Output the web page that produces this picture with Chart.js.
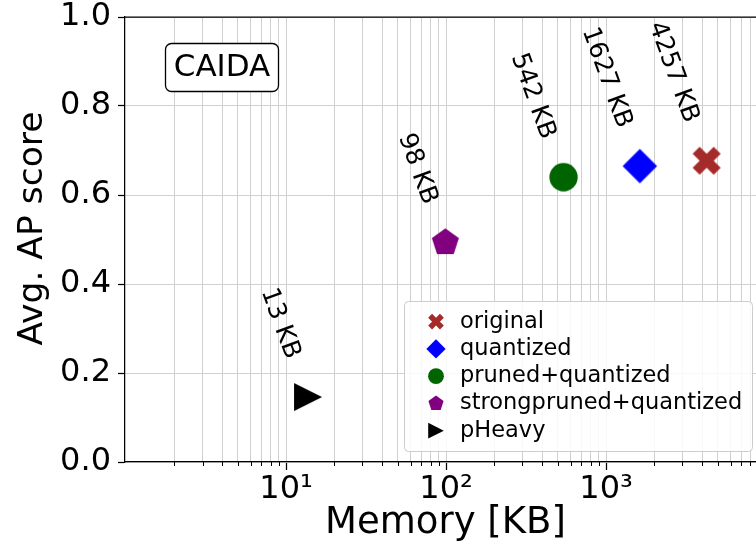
<!DOCTYPE html>
<html>
<head>
<meta charset="utf-8">
<script src="https://cdn.jsdelivr.net/npm/chart.js@4.4.1/dist/chart.umd.min.js"></script>
<style>
html, body { margin: 0; padding: 0; overflow: hidden; background: #fff; }
canvas { display: block; }
</style>
</head>
<body>
<canvas id="chart" width="766" height="550"></canvas>
<script>
// Values
const methods = ['original', 'quantized', 'pruned+quantized', 'strongpruned+quantized', 'pHeavy'];
const memoryKB = [4257, 1627, 542, 98.9, 13.7];
const apScore = [0.677, 0.665, 0.640, 0.493, 0.146];
const sizeLabels = ['4257 KB', '1627 KB', '542 KB', '98 KB', '13 KB'];
const xMajorTicks = [10, 100, 1000];
const yTicks = [0, 0.2, 0.4, 0.6, 0.8, 1.0];
const datasetName = 'CAIDA';

// Marker look per method
const markerShapes = ['X', 'diamond', 'circle', 'pentagon', 'triangleRight'];
const markerColors = ['#a52a2a', '#0000ff', '#006400', '#800080', '#000000'];
const markerSizes = [28, 34.5, 28.3, 28.4, 28];
const legendScale = 0.56;

const FONT = "'DejaVu Sans', sans-serif";
const SUP = { 0: '\u2070', 1: '\u00b9', 2: '\u00b2', 3: '\u00b3', 4: '\u2074' };

// Trace a marker path centred on (0,0), s = bounding size in px
function tracePath(ctx, shape, s) {
    ctx.beginPath();
    if (shape === 'circle') {
        ctx.arc(0, 0, s / 2, 0, Math.PI * 2);
    } else if (shape === 'diamond') {
        let r = s / 2;
        ctx.moveTo(0, -r); ctx.lineTo(r, 0); ctx.lineTo(0, r); ctx.lineTo(-r, 0);
    } else if (shape === 'pentagon') {
        let r = s / 2;
        for (let i = 0; i < 5; i++) {
            let a = -Math.PI / 2 + i * 2 * Math.PI / 5;
            if (i === 0) ctx.moveTo(r * Math.cos(a), r * Math.sin(a));
            else ctx.lineTo(r * Math.cos(a), r * Math.sin(a));
        }
    } else if (shape === 'triangleRight') {
        let h = s / 2;
        ctx.moveTo(h, 0); ctx.lineTo(-h, -h); ctx.lineTo(-h, h);
    } else if (shape === 'X') {
        // filled plus, rotated 45 degrees
        let pts = [[-1, -3], [1, -3], [1, -1], [3, -1], [3, 1], [1, 1], [1, 3], [-1, 3], [-1, 1], [-3, 1], [-3, -1], [-1, -1]];
        let unit = s / 0.9428 / 6;
        let c = Math.SQRT1_2;
        pts.forEach(([px, py], i) => {
            let x = (px * c - py * c) * unit;
            let y = (px * c + py * c) * unit;
            if (i === 0) ctx.moveTo(x, y); else ctx.lineTo(x, y);
        });
    }
    ctx.closePath();
}

function makeMarker(shape, color, s) {
    let c = document.createElement('canvas');
    let n = Math.ceil(s) + 4;
    c.width = n;
    c.height = n;
    let ctx = c.getContext('2d');
    ctx.translate(n / 2, n / 2);
    tracePath(ctx, shape, s);
    ctx.fillStyle = color;
    ctx.fill();
    return c;
}

function roundRect(ctx, x, y, w, h, r) {
    ctx.beginPath();
    ctx.moveTo(x + r, y);
    ctx.arcTo(x + w, y, x + w, y + h, r);
    ctx.arcTo(x + w, y + h, x, y + h, r);
    ctx.arcTo(x, y + h, x, y, r);
    ctx.arcTo(x, y, x + w, y, r);
    ctx.closePath();
}

// Rotated size label, its ink box bottom-right corner placed relative to the point
const LABEL_ANGLE = 70 * Math.PI / 180;
function drawRotatedLabel(ctx, text, px, py) {
    ctx.font = '25px ' + FONT;
    let m = ctx.measureText(text);
    let corners = [
        [-m.actualBoundingBoxLeft, -m.actualBoundingBoxAscent],
        [m.actualBoundingBoxRight, -m.actualBoundingBoxAscent],
        [m.actualBoundingBoxRight, m.actualBoundingBoxDescent],
        [-m.actualBoundingBoxLeft, m.actualBoundingBoxDescent]
    ];
    let cs = Math.cos(LABEL_ANGLE), sn = Math.sin(LABEL_ANGLE);
    let maxX = -Infinity, maxY = -Infinity;
    for (let [x, y] of corners) {
        maxX = Math.max(maxX, x * cs - y * sn);
        maxY = Math.max(maxY, x * sn + y * cs);
    }
    ctx.save();
    ctx.translate(px - 5 - maxX, py - 38 - maxY);
    ctx.rotate(LABEL_ANGLE);
    ctx.textAlign = 'left';
    ctx.textBaseline = 'alphabetic';
    ctx.fillStyle = '#000';
    ctx.fillText(text, 0, 0);
    ctx.restore();
}

const decorPlugin = {
    id: 'decor',
    afterDraw(chart) {
        let ctx = chart.ctx;
        let area = chart.chartArea;
        let xs = chart.scales.x, ys = chart.scales.y;
        ctx.save();
        // top spine
        ctx.strokeStyle = '#000';
        ctx.lineWidth = 1.25;
        ctx.beginPath();
        ctx.moveTo(area.left, area.top);
        ctx.lineTo(area.right, area.top);
        ctx.stroke();
        // minor ticks of the log axis
        ctx.lineWidth = 1;
        for (let t of xs.ticks) {
            if (xMajorTicks.includes(t.value)) continue;
            let x = Math.round(xs.getPixelForValue(t.value)) + 0.5;
            ctx.beginPath();
            ctx.moveTo(x, area.bottom);
            ctx.lineTo(x, area.bottom + 4);
            ctx.stroke();
        }

        // size labels next to the points
        methods.forEach((m, i) => {
            drawRotatedLabel(ctx, sizeLabels[i], xs.getPixelForValue(memoryKB[i]), ys.getPixelForValue(apScore[i]));
        });

        // dataset name box
        roundRect(ctx, 165.5, 43.5, 113, 48, 6);
        ctx.fillStyle = '#fff';
        ctx.fill();
        ctx.strokeStyle = '#000';
        ctx.lineWidth = 1.3;
        ctx.stroke();
        ctx.fillStyle = '#000';
        ctx.font = '31px ' + FONT;
        ctx.textAlign = 'center';
        ctx.textBaseline = 'middle';
        ctx.fillText(datasetName, 222, 68);

        // legend
        roundRect(ctx, 404.5, 301.5, 348, 150, 4);
        ctx.fillStyle = 'rgba(255,255,255,0.85)';
        ctx.fill();
        ctx.strokeStyle = '#cccccc';
        ctx.lineWidth = 1;
        ctx.stroke();
        ctx.font = '22.5px ' + FONT;
        ctx.textAlign = 'left';
        ctx.textBaseline = 'middle';
        methods.forEach((m, i) => {
            let y = 321.7 + i * 27.25;
            ctx.save();
            ctx.translate(436, y);
            tracePath(ctx, markerShapes[i], markerSizes[i] * legendScale);
            ctx.fillStyle = markerColors[i];
            ctx.fill();
            ctx.restore();
            ctx.fillStyle = '#000';
            ctx.fillText(m, 460, y);
        });
        ctx.restore();
    }
};

const datasets = methods.map((m, i) => ({
    label: m,
    data: [{ x: memoryKB[i], y: apScore[i] }],
    pointStyle: makeMarker(markerShapes[i], markerColors[i], markerSizes[i]),
    pointRadius: markerSizes[i] / 2,
    backgroundColor: markerColors[i],
    borderColor: markerColors[i]
}));

new Chart(document.getElementById('chart'), {
    type: 'scatter',
    data: { datasets: datasets },
    options: {
        responsive: false,
        animation: false,
        devicePixelRatio: 1,
        layout: { autoPadding: false, padding: { top: 17, right: 0, bottom: 0, left: 0 } },
        plugins: {
            legend: { display: false },
            tooltip: { enabled: false }
        },
        scales: {
            x: {
                type: 'logarithmic',
                min: 0.983,
                max: 10000,
                afterBuildTicks: (scale) => {
                    let t = [];
                    for (let p = 1; p <= 1000; p *= 10) {
                        for (let k = (p === 1 ? 2 : 1); k <= 9; k++) t.push({ value: k * p, major: k === 1 });
                    }
                    scale.ticks = t;
                },
                afterFit: (scale) => {
                    scale.height = 88;
                    scale.paddingLeft = 0;
                    scale.paddingRight = 0;
                },
                ticks: {
                    autoSkip: false,
                    maxRotation: 0,
                    padding: 4,
                    color: '#000',
                    font: { family: FONT, size: 32, lineHeight: 1 },
                    callback: (v) => xMajorTicks.includes(v) ? '10' + SUP[Math.round(Math.log10(v))] : ''
                },
                grid: {
                    color: '#d0d0d0',
                    lineWidth: 1,
                    tickLength: 8,
                    tickWidth: 1.25,
                    tickColor: (c) => (c.tick && xMajorTicks.includes(c.tick.value)) ? '#000' : 'rgba(0,0,0,0)'
                },
                border: { color: '#000', width: 1.25 },
                title: {
                    display: true,
                    text: 'Memory [KB]',
                    color: '#000',
                    font: { family: FONT, size: 37 },
                    padding: { top: 0, bottom: 4 }
                }
            },
            y: {
                min: 0,
                max: 1,
                afterBuildTicks: (scale) => { scale.ticks = yTicks.map(v => ({ value: v })); },
                afterFit: (scale) => {
                    scale.width = 125;
                    scale.paddingTop = 0;
                    scale.paddingBottom = 0;
                },
                ticks: {
                    padding: 7,
                    color: '#000',
                    font: { family: FONT, size: 32, lineHeight: 1 },
                    callback: (v) => v.toFixed(1)
                },
                grid: {
                    color: '#d0d0d0',
                    lineWidth: 1,
                    tickLength: 7,
                    tickWidth: 1.25,
                    tickColor: '#000'
                },
                border: { color: '#000', width: 1.25 },
                title: {
                    display: true,
                    text: '  Avg. AP score',
                    color: '#000',
                    font: { family: FONT, size: 34.5 },
                    padding: { top: 12, bottom: 0 }
                }
            }
        }
    },
    plugins: [decorPlugin]
});
</script>
</body>
</html>
